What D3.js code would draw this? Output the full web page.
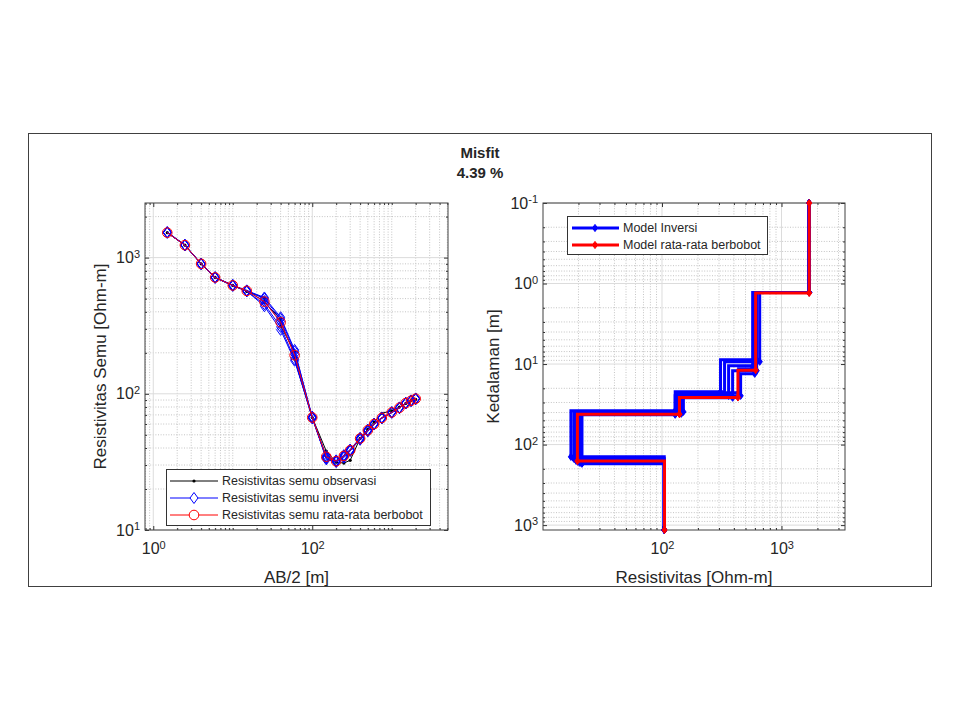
<!DOCTYPE html>
<html>
<head>
<meta charset="utf-8">
<script src="https://cdn.jsdelivr.net/npm/d3@7"></script>
<style>
  body { margin: 0; background: #fff; }
  svg text { font-family: "Liberation Sans", Arial, sans-serif; fill: #262626; }
</style>
</head>
<body>
<div id="chart"></div>
<script>
// ---- data ----
const titleLines = ["Misfit", "4.39 %"];

// curva sondir (kiri)
const abObs = [1.5, 2.5, 4, 6, 10, 15, 25, 25, 40, 40, 60, 60, 100, 150, 200, 250, 300, 400, 500, 600, 750, 1000, 1250, 1500, 1750, 2000];
const rhoObs = [1525, 1235, 900, 715, 625, 565, 505, 470, 355, 315, 205, 180, 67, 38, 31.5, 31, 32.5, 47, 55, 62, 72, 75, 80, 85, 89, 91];

const abCalc = [1.5, 2.5, 4, 6, 10, 15, 25, 40, 60, 100, 150, 200, 250, 300, 400, 500, 600, 750, 1000, 1250, 1500, 1750, 2000];
const rhoInv1 = [1540, 1240, 905, 710, 625, 575, 500, 355, 205, 68, 33, 31.5, 34, 38, 47, 54, 60, 66, 73, 79, 85, 89, 92];
const rhoInv2 = [1530, 1230, 895, 715, 630, 565, 455, 310, 180, 66, 34, 32.5, 35, 38.5, 46, 53, 59.5, 66.5, 73.5, 79.5, 85.5, 89.5, 92.5];
const rhoInv3 = [1520, 1235, 900, 720, 620, 570, 480, 340, 195, 67, 35, 32, 35.5, 39, 47.5, 54.5, 60.5, 67, 72.5, 78.5, 86, 88.5, 91.5];
const rhoInv4 = [1525, 1238, 902, 712, 627, 568, 440, 295, 175, 67.5, 33.5, 31.8, 34.5, 38.2, 46.5, 53.5, 60, 66, 73, 79, 85, 89, 92];
const rhoInv5 = [1535, 1232, 898, 716, 623, 572, 510, 365, 210, 66.5, 34.2, 32.2, 35.2, 38.8, 47.2, 54.2, 59.8, 66.8, 72.8, 78.8, 85.2, 88.8, 91.8];
const rhoWeighted = [1525, 1235, 900, 715, 625, 570, 475, 335, 192, 67, 34.5, 32, 35, 38.5, 47, 54, 60, 66.5, 73, 79, 85.5, 89, 92];

// model lapisan (kanan)
const modelTop = 0.1;
const modelBottom = 1150;
const invModelRho = [
  [1700, 620, 309, 129, 17.3, 104.5],
  [1700, 657, 334, 134, 18.3, 104.5],
  [1700, 585, 361, 140, 19.1, 104.5],
  [1700, 620, 390, 145, 19.8, 104.5],
  [1700, 597, 455, 129, 21.4, 104.5],
  [1700, 574, 438, 151, 20.6, 104.5]
];
const invModelDepth = [
  [1.29, 8.85, 22.1, 38.0, 142],
  [1.29, 9.35, 23.4, 39.2, 150],
  [1.29, 10.5, 24.8, 40.3, 159],
  [1.29, 12.1, 26.2, 41.4, 164],
  [1.29, 13.2, 24.8, 42.6, 173],
  [1.29, 11.4, 22.7, 39.2, 169]
];
const avgModelRho = [1706, 608, 432, 140, 19.6, 105];
const avgModelDepth = [1.31, 11.9, 26, 42, 160];

// tick labels
const leftXTicks = [1, 100];
const leftYTicks = [10, 100, 1000];
const rightXTicks = [100, 1000];
const rightYTicks = [0.1, 1, 10, 100, 1000];

const legendLeft = ["Resistivitas semu observasi", "Resistivitas semu inversi", "Resistivitas semu rata-rata berbobot"];
const legendRight = ["Model Inversi", "Model rata-rata berbobot"];

// ---- drawing ----
const svg = d3.select("#chart").append("svg")
  .attr("width", 960)
  .attr("height", 720);

// figure frame
svg.append("rect")
  .attr("x", 28.5).attr("y", 133.5)
  .attr("width", 903).attr("height", 453)
  .attr("fill", "none")
  .attr("stroke", "#404040");

svg.selectAll(".title")
  .data(titleLines)
  .join("text")
    .attr("x", 480)
    .attr("y", (d, i) => 158 + i * 20)
    .attr("text-anchor", "middle")
    .style("font-weight", "bold")
    .style("font-size", "15px")
    .text(d => d);

function supLabels(sel) {
  sel.each(function(d) {
    const t = d3.select(this);
    t.text("10");
    t.append("tspan")
      .attr("dy", "-0.48em")
      .style("font-size", "11px")
      .text(Math.round(Math.log10(d)));
  });
}

function isMajor(v, majors) {
  return majors.some(m => Math.abs(m - v) / m < 1e-6);
}

function drawAxes(x, y, xMajor, yMajor) {
  const left = x.range()[0], right = x.range()[1];
  const top = Math.min(...y.range()), bottom = Math.max(...y.range());
  const g = svg.append("g");
  const xMinor = x.ticks().filter(v => !isMajor(v, xMajor));
  const yMinor = y.ticks().filter(v => !isMajor(v, yMajor));

  // minor grid (dotted)
  g.append("g").selectAll("line").data(xMinor).join("line")
    .attr("x1", d => x(d)).attr("x2", d => x(d))
    .attr("y1", top).attr("y2", bottom)
    .attr("stroke", "#c4c4c4").attr("stroke-dasharray", "1,1.6");
  g.append("g").selectAll("line").data(yMinor).join("line")
    .attr("y1", d => y(d)).attr("y2", d => y(d))
    .attr("x1", left).attr("x2", right)
    .attr("stroke", "#c4c4c4").attr("stroke-dasharray", "1,1.6");

  // major grid
  g.append("g").selectAll("line").data(xMajor).join("line")
    .attr("x1", d => x(d)).attr("x2", d => x(d))
    .attr("y1", top).attr("y2", bottom)
    .attr("stroke", "#dcdcdc");
  g.append("g").selectAll("line").data(yMajor).join("line")
    .attr("y1", d => y(d)).attr("y2", d => y(d))
    .attr("x1", left).attr("x2", right)
    .attr("stroke", "#dcdcdc");

  // ticks, inward on all four sides
  const tickStyle = a => a.attr("color", "#333").call(s => s.select(".domain").remove());
  g.append("g").attr("transform", `translate(0,${bottom})`)
    .call(d3.axisBottom(x).tickValues(xMajor).tickSizeInner(-4).tickSizeOuter(0).tickPadding(13))
    .call(tickStyle)
    .attr("font-size", 16).attr("font-family", null)
    .selectAll("text").call(supLabels);
  g.append("g").attr("transform", `translate(0,${bottom})`)
    .call(d3.axisBottom(x).tickValues(xMinor).tickSizeInner(-2).tickSizeOuter(0).tickFormat(""))
    .call(tickStyle);
  g.append("g").attr("transform", `translate(0,${top})`)
    .call(d3.axisTop(x).tickValues(xMajor).tickSizeInner(-4).tickSizeOuter(0).tickFormat(""))
    .call(tickStyle);
  g.append("g").attr("transform", `translate(0,${top})`)
    .call(d3.axisTop(x).tickValues(xMinor).tickSizeInner(-2).tickSizeOuter(0).tickFormat(""))
    .call(tickStyle);

  g.append("g").attr("transform", `translate(${left},0)`)
    .call(d3.axisLeft(y).tickValues(yMajor).tickSizeInner(-4).tickSizeOuter(0).tickPadding(5))
    .call(tickStyle)
    .attr("font-size", 16).attr("font-family", null)
    .selectAll("text").call(supLabels);
  g.append("g").attr("transform", `translate(${left},0)`)
    .call(d3.axisLeft(y).tickValues(yMinor).tickSizeInner(-2).tickSizeOuter(0).tickFormat(""))
    .call(tickStyle);
  g.append("g").attr("transform", `translate(${right},0)`)
    .call(d3.axisRight(y).tickValues(yMajor).tickSizeInner(-4).tickSizeOuter(0).tickFormat(""))
    .call(tickStyle);
  g.append("g").attr("transform", `translate(${right},0)`)
    .call(d3.axisRight(y).tickValues(yMinor).tickSizeInner(-2).tickSizeOuter(0).tickFormat(""))
    .call(tickStyle);

  // box
  g.append("rect")
    .attr("x", left).attr("y", top)
    .attr("width", right - left).attr("height", bottom - top)
    .attr("fill", "none").attr("stroke", "#404040");
  return g;
}

const diamond = "M0,-5.5L4,0L0,5.5L-4,0Z";
const smallDiamond = "M0,-3.6L2.6,0L0,3.6L-2.6,0Z";

// ================= left: sounding curve =================
const xL = d3.scaleLog().domain([0.787, 5100]).range([145, 448]);
const yL = d3.scaleLog().domain([10, 2518]).range([530, 203]);
drawAxes(xL, yL, leftXTicks, leftYTicks);

const lineL = d3.line()
  .x(d => xL(d[0]))
  .y(d => yL(d[1]));

const obsPts = abObs.map((a, i) => [a, rhoObs[i]]);
const invSets = [rhoInv1, rhoInv2, rhoInv3, rhoInv4, rhoInv5].map(r => abCalc.map((a, i) => [a, r[i]]));
const wPts = abCalc.map((a, i) => [a, rhoWeighted[i]]);

svg.append("path")
  .attr("d", lineL(obsPts))
  .attr("fill", "none").attr("stroke", "#000").attr("stroke-width", 1);
svg.append("g").selectAll("circle").data(obsPts).join("circle")
  .attr("cx", d => xL(d[0])).attr("cy", d => yL(d[1]))
  .attr("r", 1.6).attr("fill", "#000");

invSets.forEach(pts => {
  svg.append("path")
    .attr("d", lineL(pts))
    .attr("fill", "none").attr("stroke", "#0000ff").attr("stroke-width", 1);
  svg.append("g").selectAll("path").data(pts).join("path")
    .attr("d", diamond)
    .attr("transform", d => `translate(${xL(d[0])},${yL(d[1])})`)
    .attr("fill", "none").attr("stroke", "#0000ff").attr("stroke-width", 1);
});

svg.append("path")
  .attr("d", lineL(wPts))
  .attr("fill", "none").attr("stroke", "#ff0000").attr("stroke-width", 1);
svg.append("g").selectAll("circle").data(wPts).join("circle")
  .attr("cx", d => xL(d[0])).attr("cy", d => yL(d[1]))
  .attr("r", 4.8).attr("fill", "none").attr("stroke", "#ff0000").attr("stroke-width", 1);

// axis labels
svg.append("text")
  .attr("transform", "translate(100,366.5) rotate(-90)")
  .attr("text-anchor", "middle").attr("dy", "0.35em")
  .style("font-size", "17px")
  .text("Resistivitas Semu [Ohm-m]");
svg.append("text")
  .attr("x", 296.5).attr("y", 583)
  .attr("text-anchor", "middle")
  .style("font-size", "17px")
  .text("AB/2 [m]");

// legend left
const legL = svg.append("g");
legL.append("rect")
  .attr("x", 166.5).attr("y", 469.5).attr("width", 264).attr("height", 56)
  .attr("fill", "#fff").attr("stroke", "#333");
const legColors = ["#000", "#0000ff", "#ff0000"];
legendLeft.forEach((txt, i) => {
  const yy = 481 + i * 17;
  legL.append("line")
    .attr("x1", 170).attr("x2", 218).attr("y1", yy).attr("y2", yy)
    .attr("stroke", legColors[i]).attr("stroke-width", 1);
  if (i === 0) {
    legL.append("circle").attr("cx", 194).attr("cy", yy).attr("r", 1.6).attr("fill", "#000");
  } else if (i === 1) {
    legL.append("path").attr("d", diamond).attr("transform", `translate(194,${yy})`)
      .attr("fill", "#fff").attr("stroke", "#0000ff");
  } else {
    legL.append("circle").attr("cx", 194).attr("cy", yy).attr("r", 4.8)
      .attr("fill", "#fff").attr("stroke", "#ff0000");
  }
  legL.append("text")
    .attr("x", 222).attr("y", yy).attr("dy", "0.35em")
    .style("font-size", "12.5px")
    .text(txt);
});

// ================= right: layer model =================
const xR = d3.scaleLog().domain([10.1, 3400]).range([543, 845]);
const yR = d3.scaleLog().domain([modelTop, modelBottom]).range([203, 530]);
drawAxes(xR, yR, rightXTicks, rightYTicks);

const lineR = d3.line()
  .x(d => xR(d[0]))
  .y(d => yR(d[1]));

function stairPoints(rho, depth) {
  const pts = [[rho[0], modelTop]];
  depth.forEach((d, i) => {
    pts.push([rho[i], d]);
    pts.push([rho[i + 1], d]);
  });
  pts.push([rho[rho.length - 1], modelBottom]);
  return pts;
}
function markerPoints(rho, depth) {
  const pts = [[rho[0], modelTop]];
  depth.forEach((d, i) => pts.push([rho[i], d]));
  pts.push([rho[rho.length - 1], modelBottom]);
  return pts;
}

function drawModel(rho, depth, color) {
  svg.append("path")
    .attr("d", lineR(stairPoints(rho, depth)))
    .attr("fill", "none").attr("stroke", color).attr("stroke-width", 3)
    .attr("stroke-linejoin", "miter");
  svg.append("g").selectAll("path").data(markerPoints(rho, depth)).join("path")
    .attr("d", smallDiamond)
    .attr("transform", d => `translate(${xR(d[0])},${yR(d[1])})`)
    .attr("fill", color).attr("stroke", color).attr("stroke-width", 1);
}

invModelRho.forEach((rho, i) => drawModel(rho, invModelDepth[i], "#0000ff"));
drawModel(avgModelRho, avgModelDepth, "#ff0000");

svg.append("text")
  .attr("transform", "translate(493.5,366.5) rotate(-90)")
  .attr("text-anchor", "middle").attr("dy", "0.35em")
  .style("font-size", "17px")
  .text("Kedalaman [m]");
svg.append("text")
  .attr("x", 694).attr("y", 583)
  .attr("text-anchor", "middle")
  .style("font-size", "17px")
  .text("Resistivitas [Ohm-m]");

// legend right
const legR = svg.append("g");
legR.append("rect")
  .attr("x", 567.5).attr("y", 216.5).attr("width", 200).attr("height", 38)
  .attr("fill", "#fff").attr("stroke", "#333");
const legRColors = ["#0000ff", "#ff0000"];
legendRight.forEach((txt, i) => {
  const yy = 228 + i * 17;
  legR.append("line")
    .attr("x1", 572).attr("x2", 619).attr("y1", yy).attr("y2", yy)
    .attr("stroke", legRColors[i]).attr("stroke-width", 3);
  legR.append("path").attr("d", smallDiamond).attr("transform", `translate(595,${yy})`)
    .attr("fill", legRColors[i]).attr("stroke", legRColors[i]);
  legR.append("text")
    .attr("x", 623).attr("y", yy).attr("dy", "0.35em")
    .style("font-size", "12.5px")
    .text(txt);
});
</script>
</body>
</html>
